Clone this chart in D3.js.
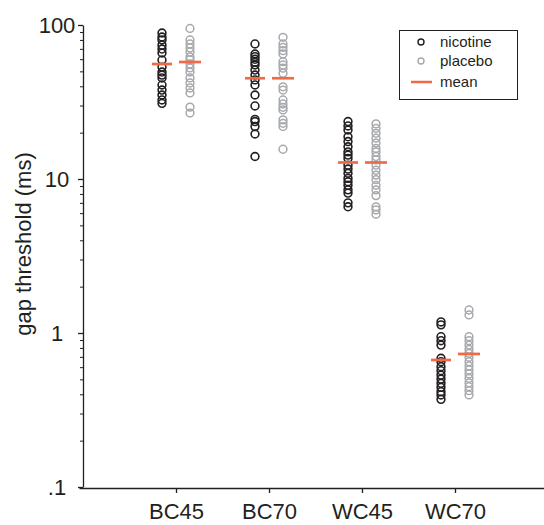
<!DOCTYPE html>
<html><head><meta charset="utf-8">
<script src="https://cdn.jsdelivr.net/npm/d3@7"></script>
<style>body{margin:0;background:#fff}svg{display:block}</style>
</head><body>
<script>
const categories = ["BC45","BC70","WC45","WC70"];
const nicotine = [
  [88.7,83.6,80,74,69.8,65.8,59.3,53.3,49.5,47.3,45.3,40.8,37.8,35.1,32.6,31],
  [75.3,64.8,62.3,59.9,57.3,55,51,47.3,44,40.8,35.1,29.8,24.4,23.6,21.9,19.6,14],
  [23.6,22.1,20.8,18.8,17.5,16.2,15,14.3,13.6,12.3,11.6,10.9,10.1,9.6,9.1,8.5,8.1,7,6.6],
  [1.18,1.13,0.946,0.891,0.835,0.685,0.651,0.604,0.569,0.533,0.502,0.471,0.444,0.416,0.396,0.371]
];
const placebo = [
  [95,80,75.3,70.9,66.8,62,59.3,55.8,52.6,49.5,45.3,42,39,36.2,29.3,26.8],
  [83.2,75.3,71.6,68.1,64.8,57.8,55,52.4,48.6,39.7,37.8,32.6,30.7,29.2,28.1,24.2,23,21.9,15.6],
  [22.8,21.3,19.8,18.4,17.1,15.8,15,14,13.3,12.3,11.4,10.6,9.9,9.1,8.5,7.8,6.6,6.3,5.9],
  [1.41,1.31,0.946,0.891,0.835,0.784,0.738,0.695,0.651,0.611,0.575,0.542,0.508,0.475,0.448,0.422,0.396]
];
const nicotineMean = [55.8,45.1,12.8,0.668];
const placeboMean = [57.5,45.1,12.8,0.731];
const yTickValues = [100,10,1,0.1];
const yTickLabels = ["100","10","1",".1"];
const legendLabels = ["nicotine","placebo","mean"];

const W=544,H=525;
const ink="#231f20", grey="#a7a9ac", orange="#f26a45";
const svg=d3.select("body").append("svg").attr("width",W).attr("height",H)
  .style("font-family","'Liberation Sans', Arial, sans-serif");

const y=d3.scaleLog().domain([0.1,100]).range([487,25]);
const x=d3.scalePoint().domain(categories).range([83,548]).padding(1);
const off=14;

// y axis
const minor=[];
for(let d=0.1; d<100; d*=10){ for(let k=2;k<=9;k++) minor.push(+(d*k).toPrecision(3)); }
const yAxisG=svg.append("g").attr("transform","translate(83,0)");
yAxisG.append("g").call(d3.axisLeft(y).tickValues(minor).tickSize(3).tickFormat(""))
  .call(g=>{g.select(".domain").remove();g.selectAll("line").attr("stroke",ink).attr("stroke-width",1);});
yAxisG.append("g").call(d3.axisLeft(y).tickValues(yTickValues).tickSize(5).tickSizeOuter(0)
    .tickFormat((d,i)=>yTickLabels[i]))
  .call(g=>{
    g.select(".domain").attr("stroke",ink).attr("stroke-width",1.3);
    g.selectAll("line").attr("stroke",ink).attr("stroke-width",1.3);
    g.selectAll("text").attr("fill",ink).attr("font-size",22).attr("text-anchor","middle")
      .attr("x",-26).attr("dy","0.36em");
  });

// x axis
const xAxisG=svg.append("g").attr("transform","translate(0,488)");
xAxisG.call(d3.axisBottom(x).tickSize(5).tickSizeOuter(0))
  .call(g=>{
    g.select(".domain").attr("stroke",ink).attr("stroke-width",1.3).attr("d","M79.5,0.5H544");
    g.selectAll("line").attr("stroke",ink).attr("stroke-width",1.3);
    g.selectAll("text").attr("fill",ink).attr("font-size",22).attr("y",31).attr("dy",0);
  });

// y label
svg.append("text").attr("transform","translate(31,244) rotate(-90)")
  .attr("text-anchor","middle").attr("font-size",22).attr("fill",ink).text("gap threshold (ms)");

// points
categories.forEach((c,i)=>{
  svg.append("g").selectAll("circle").data(placebo[i]).join("circle")
    .attr("cx",x(c)+off).attr("cy",d=>y(d)).attr("r",3.9)
    .attr("fill","none").attr("stroke",grey).attr("stroke-width",1.5);
  svg.append("g").selectAll("circle").data(nicotine[i]).join("circle")
    .attr("cx",x(c)-off).attr("cy",d=>y(d)).attr("r",3.9)
    .attr("fill","none").attr("stroke",ink).attr("stroke-width",1.6);
});
// means
svg.append("g").selectAll("line").data(categories).join("line")
  .attr("x1",c=>x(c)-off-10).attr("x2",c=>x(c)-off+10)
  .attr("y1",(c,i)=>y(nicotineMean[i])).attr("y2",(c,i)=>y(nicotineMean[i]))
  .attr("stroke",orange).attr("stroke-width",2.7);
svg.append("g").selectAll("line").data(categories).join("line")
  .attr("x1",c=>x(c)+off-11).attr("x2",c=>x(c)+off+11)
  .attr("y1",(c,i)=>y(placeboMean[i])).attr("y2",(c,i)=>y(placeboMean[i]))
  .attr("stroke",orange).attr("stroke-width",2.7);

// legend
const lg=svg.append("g");
lg.append("rect").attr("x",399.5).attr("y",30.5).attr("width",118).attr("height",69)
  .attr("fill","#fff").attr("stroke",ink).attr("stroke-width",1);
const ly=[42,61,82];
lg.append("circle").attr("cx",421).attr("cy",ly[0]).attr("r",3).attr("fill","none").attr("stroke",ink).attr("stroke-width",1.4);
lg.append("circle").attr("cx",421).attr("cy",ly[1]).attr("r",3).attr("fill","none").attr("stroke",grey).attr("stroke-width",1.4);
lg.append("line").attr("x1",411).attr("x2",432).attr("y1",ly[2]).attr("y2",ly[2]).attr("stroke",orange).attr("stroke-width",2.5);
legendLabels.forEach((t,i)=>{
  lg.append("text").attr("x",440).attr("y",ly[i]).attr("dy","0.33em").attr("font-size",15).attr("fill",ink).text(t);
});
</script>
</body></html>
